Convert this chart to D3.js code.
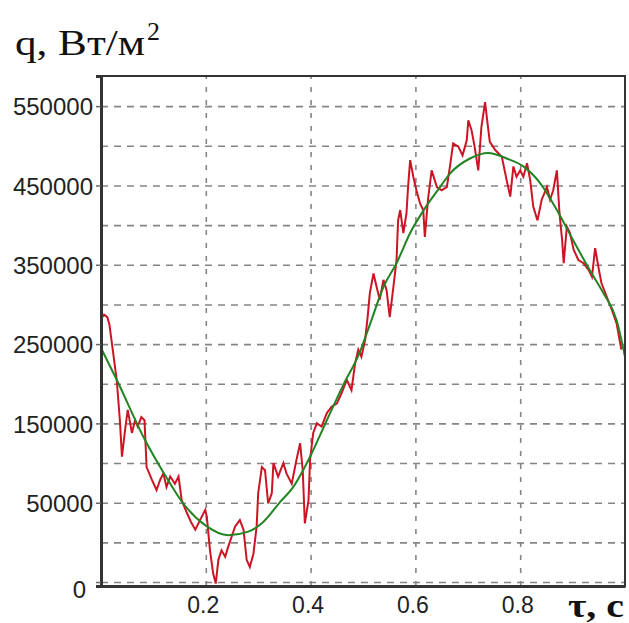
<!DOCTYPE html>
<html><head><meta charset="utf-8">
<script src="https://cdn.jsdelivr.net/npm/d3@7"></script>
<style>html,body{margin:0;padding:0;background:#fff;}svg{display:block;}</style>
</head><body>
<svg id="c" width="629" height="623"></svg>
<script>
// ---- data ----
const tRed = [0.000,0.006,0.012,0.016,0.020,0.030,0.036,0.040,0.046,0.051,0.059,0.065,0.070,0.077,0.083,0.087,0.097,0.106,0.113,0.119,0.125,0.132,0.141,0.148,0.154,0.164,0.173,0.180,0.189,0.199,0.202,0.208,0.214,0.219,0.224,0.230,0.237,0.243,0.256,0.265,0.272,0.278,0.284,0.291,0.297,0.300,0.307,0.313,0.319,0.326,0.329,0.338,0.348,0.354,0.364,0.373,0.380,0.385,0.389,0.396,0.399,0.405,0.412,0.421,0.431,0.440,0.450,0.459,0.469,0.478,0.485,0.491,0.497,0.504,0.509,0.513,0.520,0.526,0.532,0.539,0.545,0.551,0.558,0.564,0.567,0.571,0.577,0.583,0.586,0.590,0.596,0.602,0.609,0.615,0.618,0.624,0.631,0.641,0.650,0.660,0.666,0.672,0.682,0.690,0.698,0.701,0.707,0.713,0.720,0.726,0.733,0.737,0.742,0.752,0.765,0.774,0.781,0.787,0.793,0.800,0.806,0.813,0.819,0.825,0.833,0.841,0.851,0.857,0.863,0.870,0.875,0.880,0.883,0.889,0.895,0.902,0.911,0.921,0.931,0.937,0.943,0.949,0.955,0.965,0.975,0.984,0.993];
const qRed = [282000,287000,284000,275000,255000,205000,154000,108000,142000,167000,138000,154000,146000,158000,154000,95000,79000,66000,79000,87000,70000,83000,74000,83000,53000,37000,24000,16000,28000,41000,32000,-10000,-39000,-52000,-22000,-10000,-18000,-5000,20000,28000,16000,-22000,-31000,-14000,20000,62000,95000,91000,49000,62000,100000,83000,100000,87000,74000,104000,125000,91000,24000,53000,104000,138000,150000,146000,163000,171000,175000,188000,205000,192000,226000,243000,234000,255000,285000,314000,339000,322000,306000,331000,318000,284000,322000,356000,406000,419000,390000,415000,448000,482000,461000,444000,427000,419000,385000,432000,469000,448000,444000,448000,474000,503000,499000,488000,507000,532000,520000,499000,469000,524000,555000,532000,505000,495000,486000,457000,436000,474000,461000,469000,461000,478000,457000,423000,406000,432000,448000,432000,444000,469000,415000,381000,352000,398000,390000,369000,356000,352000,343000,335000,371000,348000,327000,310000,293000,276000,243000];
const tFit = [0.000,0.030,0.084,0.122,0.157,0.198,0.243,0.281,0.307,0.342,0.367,0.399,0.431,0.462,0.494,0.516,0.539,0.564,0.590,0.622,0.647,0.666,0.704,0.739,0.774,0.806,0.838,0.870,0.901,0.933,0.959,0.984,1.000];
const qFit = [245000,205000,129000,85000,49000,22000,9000,13500,24000,51000,70000,108000,154000,198000,240000,280000,322000,352000,390000,425000,448000,465000,484000,491000,484000,474000,453000,419000,381000,343000,314000,280000,234000];
const xTickValues = [0.2,0.4,0.6,0.8];
const xTickLabels = ["0.2","0.4","0.6","0.8"];
const yGridValues = [-50000,0,50000,100000,150000,200000,250000,300000,350000,400000,450000,500000,550000];
const yTickValues = [-50000,50000,150000,250000,350000,450000,550000];
const yTickLabels = ["0","50000","150000","250000","350000","450000","550000"];

// ---- layout ----
const L = 101, R = 625, T = 76, B = 586;
const svg = d3.select("#c");
const x = d3.scaleLinear().domain([0,1]).range([L,R]);
const y = d3.scaleLinear().domain([-55000,588000]).range([B,T]);

// grid
svg.append("g").attr("transform",`translate(${L},0)`)
  .call(d3.axisLeft(y).tickValues(yGridValues).tickSize(-(R-L)).tickFormat(""))
  .call(g=>g.select(".domain").remove())
  .call(g=>g.selectAll("line").attr("stroke","#858585").attr("stroke-width",1.6).attr("stroke-dasharray","7,6"));
svg.append("g").attr("transform",`translate(0,${B})`)
  .call(d3.axisBottom(x).tickValues(xTickValues).tickSize(-(B-T)).tickFormat(""))
  .call(g=>g.select(".domain").remove())
  .call(g=>g.selectAll("line").attr("stroke","#858585").attr("stroke-width",1.6).attr("stroke-dasharray","5,8"));

// lines
const redPts = tRed.map((t,i)=>[t,qRed[i]]);
const fitPts = tFit.map((t,i)=>[t,qFit[i]]);
svg.append("path").datum(redPts)
  .attr("d", d3.line().x(d=>x(d[0])).y(d=>y(d[1])))
  .attr("fill","none").attr("stroke","#cc1424").attr("stroke-width",2).attr("stroke-linejoin","miter");
svg.append("path").datum(fitPts)
  .attr("d", d3.line().x(d=>x(d[0])).y(d=>y(d[1])).curve(d3.curveMonotoneX))
  .attr("fill","none").attr("stroke","#238423").attr("stroke-width",2);

// frame
svg.append("rect").attr("x",L).attr("y",T).attr("width",R-L).attr("height",B-T)
  .attr("fill","none").attr("stroke","#333").attr("stroke-width",2);

// y axis
const yAx = svg.append("g").attr("transform",`translate(${L},0)`)
  .call(d3.axisLeft(y).tickValues(yTickValues).tickSize(5).tickPadding(3)
        .tickFormat((d,i)=>yTickLabels[i]));
yAx.select(".domain").attr("stroke","#333").attr("stroke-width",3);
yAx.selectAll("line").attr("stroke","#666").attr("stroke-width",1.5);
yAx.selectAll("text").attr("font-family","'Liberation Sans', Arial, sans-serif")
  .attr("font-size",24).attr("fill","#222")
  .attr("dy",(d)=> d===-50000 ? "0.66em" : "0.36em")
  .attr("dx",(d)=> d===-50000 ? -7 : 0);

// x axis
const xAx = svg.append("g").attr("transform",`translate(0,${B})`)
  .call(d3.axisBottom(x).tickValues(xTickValues).tickSize(0).tickPadding(11)
        .tickFormat((d,i)=>xTickLabels[i]));
xAx.select(".domain").attr("stroke","#333").attr("stroke-width",3);
xAx.selectAll("text").attr("font-family","'Liberation Sans', Arial, sans-serif")
  .attr("font-size",23).attr("fill","#222").attr("dx",-3);

// titles
svg.append("text").attr("x",15).attr("y",55)
  .attr("font-family","'Liberation Serif','Times New Roman',serif").attr("font-size",35)
  .attr("fill","#111").attr("textLength",130).attr("lengthAdjust","spacingAndGlyphs")
  .text("q, Вт/м");
svg.append("text").attr("x",147).attr("y",40)
  .attr("font-family","'Liberation Serif','Times New Roman',serif").attr("font-size",26)
  .attr("fill","#111").text("2");
svg.append("text").attr("x",568).attr("y",617)
  .attr("font-family","'Liberation Serif','Times New Roman',serif").attr("font-size",34)
  .attr("font-weight","bold").attr("fill","#111").attr("textLength",56).attr("lengthAdjust","spacingAndGlyphs")
  .text("τ, c");
</script>
</body></html>
